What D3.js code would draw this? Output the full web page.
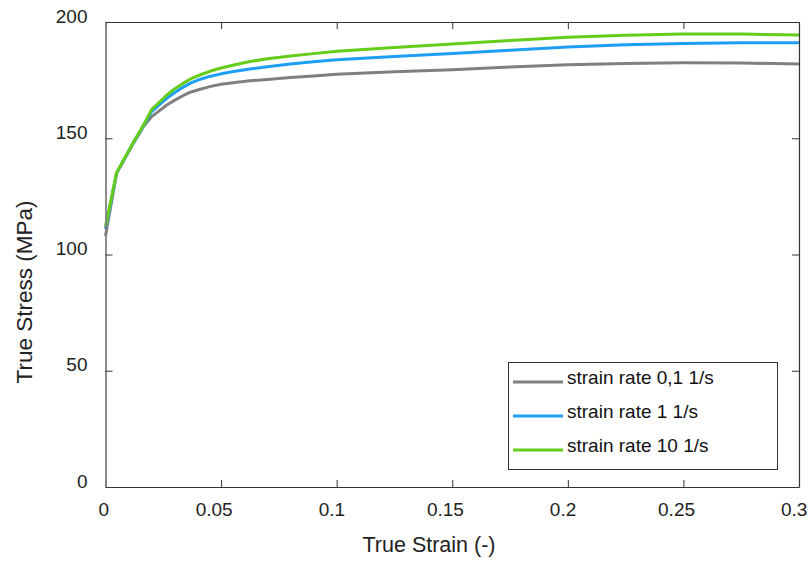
<!DOCTYPE html>
<html>
<head>
<meta charset="utf-8">
<script src="https://cdn.jsdelivr.net/npm/d3@7"></script>
<style>
  html, body { margin: 0; padding: 0; background: #fff; }
  svg { display: block; font-family: "Liberation Sans", Arial, sans-serif; }
</style>
</head>
<body>
<svg id="chart" width="809" height="561"></svg>
<script>
// True strain sample points
const strain = [0, 0.0048, 0.012, 0.0164, 0.02, 0.0235, 0.0265, 0.03, 0.0335, 0.037, 0.041, 0.0455, 0.05, 0.056, 0.0625, 0.07, 0.08, 0.09, 0.1, 0.125, 0.15, 0.175, 0.2, 0.225, 0.25, 0.275, 0.3];
// True stress (MPa) per strain rate
const stressRate01 = [108, 134.9, 147.8, 155, 159.3, 162.0, 164.3, 166.4, 168.3, 169.9, 171.1, 172.3, 173.2, 174.0, 174.7, 175.3, 176.1, 176.8, 177.5, 178.6, 179.5, 180.6, 181.6, 182.2, 182.5, 182.4, 181.9];
const stressRate1  = [111, 135.0, 148.0, 155.4, 161.5, 164.6, 167.2, 169.7, 171.9, 173.8, 175.4, 176.7, 177.7, 178.8, 179.8, 180.8, 181.9, 182.9, 183.8, 185.2, 186.5, 187.8, 189.2, 190.2, 190.8, 191.1, 191.1];
const stressRate10 = [112, 135.2, 148.2, 155.6, 162.4, 165.7, 168.6, 171.3, 173.6, 175.6, 177.3, 178.9, 180.2, 181.6, 183.0, 184.2, 185.4, 186.4, 187.4, 189.0, 190.5, 192.0, 193.4, 194.3, 194.8, 194.8, 194.4];

const seriesNames = ["strain rate 0,1 1/s", "strain rate 1 1/s", "strain rate 10 1/s"];
const seriesColors = ["#808080", "#1f9ef6", "#66cc1a"];
const xTicks = [0, 0.05, 0.1, 0.15, 0.2, 0.25, 0.3];
const xTickLabels = ["0", "0.05", "0.1", "0.15", "0.2", "0.25", "0.3"];
const yTicks = [0, 50, 100, 150, 200];

const svg = d3.select("#chart");
const plotLeft = 105.5, plotRight = 799, plotTop = 22, plotBottom = 487;

const x = d3.scaleLinear().domain([0, 0.3]).range([plotLeft, plotRight]);
const y = d3.scaleLinear().domain([0, 200]).range([plotBottom, plotTop]);

const axisColor = "#333";
const tickLen = 7;
const labelFont = "19px";

// Curves: straight segments between measured points
const line = d3.line()
  .x(d => x(d[0]))
  .y(d => y(d[1]))
  .curve(d3.curveLinear);

const allSeries = [stressRate01, stressRate1, stressRate10];
allSeries.forEach((vals, i) => {
  svg.append("path")
    .datum(strain.map((s, k) => [s, vals[k]]))
    .attr("fill", "none")
    .attr("stroke", seriesColors[i])
    .attr("stroke-width", 3)
    .attr("stroke-linejoin", "round")
    .attr("d", line);
});

// Axes (ticks pointing inward, mirrored on top/right)
const gBottom = svg.append("g").attr("transform", `translate(0,${plotBottom})`)
  .call(d3.axisBottom(x).tickValues(xTicks).tickFormat((d, i) => xTickLabels[i]).tickSizeInner(-tickLen).tickSizeOuter(0).tickPadding(15.5));
const gTop = svg.append("g").attr("transform", `translate(0,${plotTop})`)
  .call(d3.axisTop(x).tickValues(xTicks).tickFormat("").tickSizeInner(-tickLen).tickSizeOuter(0));
const gLeft = svg.append("g").attr("transform", `translate(${plotLeft},0)`)
  .call(d3.axisLeft(y).tickValues(yTicks).tickSizeInner(-tickLen).tickSizeOuter(0).tickPadding(18));
const gRight = svg.append("g").attr("transform", `translate(${plotRight},0)`)
  .call(d3.axisRight(y).tickValues(yTicks).tickFormat("").tickSizeInner(-tickLen).tickSizeOuter(0));

[gBottom, gTop, gLeft, gRight].forEach(g => {
  g.select(".domain").attr("stroke", axisColor).attr("stroke-width", 1.2);
  g.selectAll(".tick line").attr("stroke", axisColor).attr("stroke-width", 1);
  g.selectAll(".tick text")
    .attr("fill", "#222")
    .style("font-size", labelFont)
    .style("font-family", "'Liberation Sans', Arial, sans-serif");
});
gLeft.select(".domain").attr("stroke", "#808080").attr("stroke-width", 1.8);

// y labels sit slightly above their ticks
gLeft.selectAll(".tick text").attr("y", -6);
// x labels sit a little left of their ticks
gBottom.selectAll(".tick text").each(function () {
  const w = this.getComputedTextLength();
  d3.select(this).attr("dx", -0.2 * w);
});

// Axis titles
svg.append("text")
  .attr("x", 429)
  .attr("y", 552)
  .attr("text-anchor", "middle")
  .attr("fill", "#222")
  .style("font-size", "21.5px")
  .text("True Strain (-)");

svg.append("text")
  .attr("transform", "translate(32,292) rotate(-90)")
  .attr("text-anchor", "middle")
  .attr("fill", "#222")
  .style("font-size", "22.5px")
  .text("True Stress (MPa)");

// Legend
const lg = svg.append("g");
lg.append("rect")
  .attr("x", 508.5).attr("y", 362.5)
  .attr("width", 269).attr("height", 107)
  .attr("fill", "#fff")
  .attr("stroke", "#333")
  .attr("stroke-width", 1);

seriesNames.forEach((name, i) => {
  const cy = 382 + i * 34;
  lg.append("line")
    .attr("x1", 513).attr("x2", 563)
    .attr("y1", cy).attr("y2", cy)
    .attr("stroke", seriesColors[i])
    .attr("stroke-width", 3);
  lg.append("text")
    .attr("x", 567)
    .attr("y", cy + 1.5)
    .attr("fill", "#111")
    .style("font-size", labelFont)
    .text(name);
});
</script>
</body>
</html>
